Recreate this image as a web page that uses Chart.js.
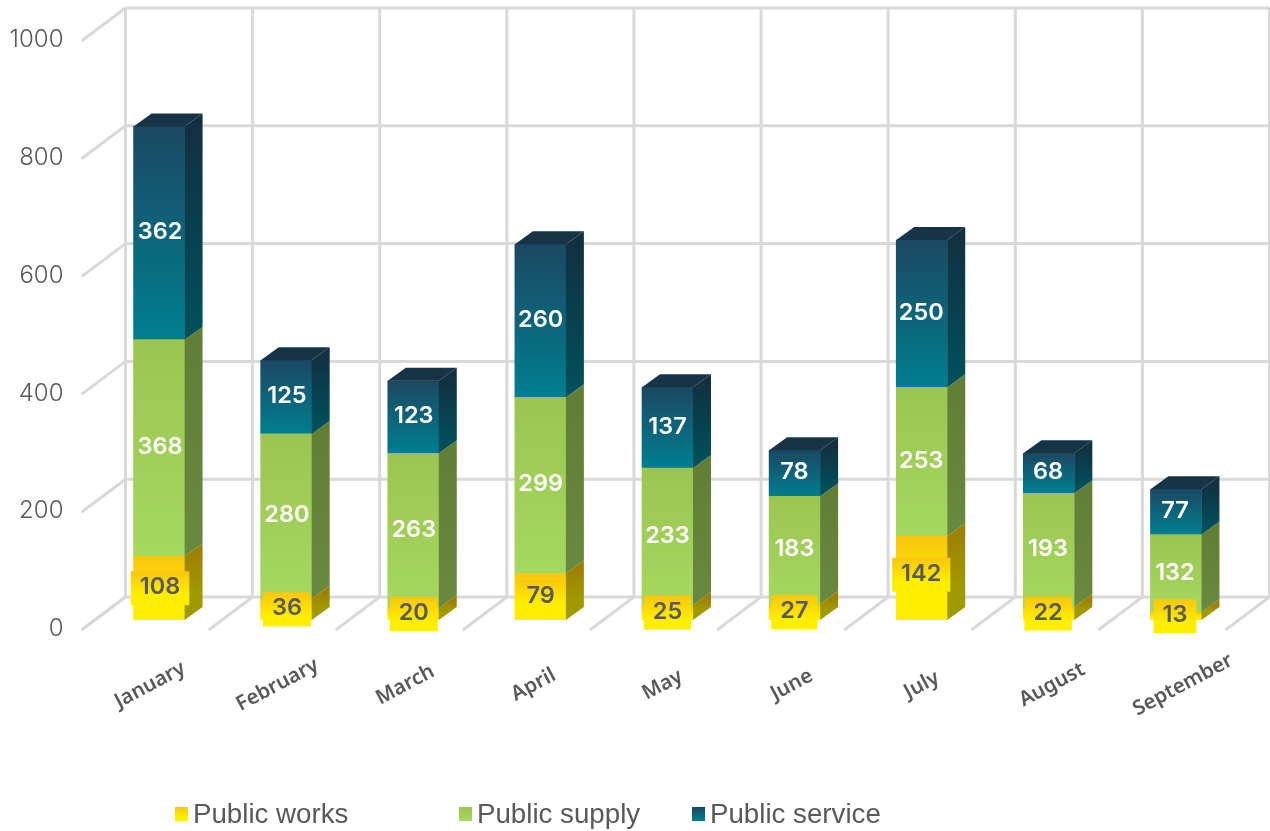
<!DOCTYPE html>
<html><head><meta charset="utf-8">
<style>html,body{margin:0;padding:0;background:#fff}canvas{display:block}</style>
<script src="https://cdn.jsdelivr.net/npm/chart.js@4"></script>
</head><body><canvas id="c" width="1270" height="831"></canvas>
<script>
const months=['January','February','March','April','May','June','July','August','September'];
const publicWorks=[108,36,20,79,25,27,142,22,13];
const publicSupply=[368,280,263,299,233,183,253,193,132];
const publicService=[362,125,123,260,137,78,250,68,77];
const yTicks=[0,200,400,600,800,1000];
const seriesNames=['Public works','Public supply','Public service'];

const TEXT='#595959', GRID='#D9D9D9';
const NUM_FONT='Inter';
const palettes=[
 {top:'#F8C60F',bot:'#FFEE00',sideTop:'#9E7F06',sideBot:'#A09A00',cap:'#A08000',label:TEXT,stop:0.7},
 {top:'#9BC552',bot:'#A5D85F',sideTop:'#627E36',sideBot:'#68893E',cap:'#627E36',label:'#FFFFFF',stop:1},
 {top:'#1B4862',bot:'#007F90',sideTop:'#122F40',sideBot:'#00505C',cap:'#163446',label:'#FFFFFF',stop:1}
];
const seriesArrays=[publicWorks,publicSupply,publicService];
const DEPTH_X=18, DEPTH_Y=13;
function vGrad(ctx,y0,y1,c0,c1,stop=1){const g=ctx.createLinearGradient(0,y0,0,y1);g.addColorStop(0,c0);g.addColorStop(stop,c1);return g;}
function segFill(s){return c=>{
  const sc=c.chart.scales.y; if(!sc||c.dataIndex===undefined)return palettes[s].bot;
  let base=0;for(let k=0;k<s;k++)base+=seriesArrays[k][c.dataIndex];
  const a=sc.getPixelForValue(base+seriesArrays[s][c.dataIndex]),b=sc.getPixelForValue(base);
  if(!isFinite(a)||!isFinite(b))return palettes[s].bot;
  return vGrad(c.chart.ctx,a,b,palettes[s].top,palettes[s].bot,palettes[s].stop);
};}

const scene={id:'scene',
 afterUpdate(chart){
  const {x,y}=chart.scales;
  x.getLabelItems(chart.chartArea).forEach((it,i)=>{
    it.textOffset=0;
    it.options.textAlign='center';it.options.textBaseline='middle';
    it.options.translation=[x.getPixelForTick(i)-9+0.25*i*i,685];
  });
  y.getLabelItems(chart.chartArea).forEach(it=>{
    it.options.translation=[63.5,it.options.translation[1]+9];
  });
 },
 beforeDatasetsDraw(chart){
  const {ctx}=chart,{x,y}=chart.scales;
  const step=x.getPixelForValue(1)-x.getPixelForValue(0);
  const left=x.getPixelForValue(0)-step/2;
  ctx.save();ctx.strokeStyle=GRID;ctx.lineWidth=3;ctx.lineCap='butt';
  const wallX=left+30,frontX=left-14,backDy=-23,frontDy=10;
  const line=(a,b,c,d)=>{ctx.beginPath();ctx.moveTo(a,b);ctx.lineTo(c,d);ctx.stroke();};
  const wallRight=wallX+step*months.length;
  yTicks.forEach(v=>{
    const p=y.getPixelForValue(v);
    line(wallX,p+backDy,wallRight,p+backDy);
    line(frontX,p+frontDy,wallX,p+backDy);
  });
  const py0=y.getPixelForValue(0),pyT=y.getPixelForValue(1000);
  for(let i=0;i<=months.length;i++){
    line(wallX+step*i,pyT+backDy,wallX+step*i,py0+backDy);
    line(frontX+step*i,py0+frontDy,wallX+step*i,py0+backDy);
  }
  ctx.restore();
 },
 afterDatasetsDraw(chart){
  const {ctx}=chart;
  ctx.save();
  chart.data.datasets.forEach((ds,s)=>{
    const pal=palettes[s];
    chart.getDatasetMeta(s).data.forEach(b=>{
      const r=b.x+b.width/2,t=b.y,bt=b.base;
      ctx.fillStyle=vGrad(ctx,t-DEPTH_Y/2,bt-DEPTH_Y/2,pal.sideTop,pal.sideBot,pal.stop);
      ctx.beginPath();ctx.moveTo(r,t);ctx.lineTo(r+DEPTH_X,t-DEPTH_Y);ctx.lineTo(r+DEPTH_X,bt-DEPTH_Y);ctx.lineTo(r,bt);ctx.closePath();ctx.fill();
      if(s===2){
        const l=b.x-b.width/2;
        ctx.fillStyle=pal.cap;
        ctx.beginPath();ctx.moveTo(l,t);ctx.lineTo(l+DEPTH_X,t-DEPTH_Y);ctx.lineTo(r+DEPTH_X,t-DEPTH_Y);ctx.lineTo(r,t);ctx.closePath();ctx.fill();
      }
    });
  });
  ctx.textAlign='center';ctx.textBaseline='middle';
  chart.data.datasets.forEach((ds,s)=>{
    const pal=palettes[s];
    chart.getDatasetMeta(s).data.forEach((b,i)=>{
      const txt=String(ds.data[i]),cx=b.x+1-0.25*i;
      const nudge=(s===0&&ds.data[i]===Math.max(...ds.data))?-3.5:0;
      const mid=(b.y+b.base)/2+nudge;
      ctx.font='600 23.5px '+NUM_FONT;
      const w=ctx.measureText(txt).width;
      if(s===0){
        const h=34,bw=w+18,y0=mid-h/2;
        ctx.fillStyle=vGrad(ctx,y0,y0+h,pal.top,pal.bot,pal.stop);
        ctx.fillRect(cx-bw/2,y0,bw,h);
      }
      ctx.fillStyle=pal.label;
      ctx.fillText(txt,cx,mid-1);
    });
  });
  const lx=[175,459,692],ly=814;
  ctx.textAlign='left';ctx.textBaseline='alphabetic';
  seriesNames.forEach((n,s)=>{
    ctx.fillStyle=vGrad(ctx,ly-7,ly+7,palettes[s].top,palettes[s].bot,palettes[s].stop);
    ctx.fillRect(lx[s],ly-7,13,14);
    ctx.fillStyle=TEXT;ctx.font='27.7px "Liberation Sans"';
    ctx.fillText(n,lx[s]+18,ly+9);
  });
  ctx.restore();
 }
};

const mk=(s)=>({label:seriesNames[s],data:seriesArrays[s],backgroundColor:segFill(s),barThickness:51,stack:'a',borderWidth:0});
new Chart(document.getElementById('c'),{
 type:'bar',
 data:{labels:months,datasets:[mk(0),mk(1),mk(2)]},
 plugins:[scene],
 options:{
  responsive:false,animation:false,
  layout:{padding:{top:31,right:30.5,left:0,bottom:0}},
  plugins:{legend:{display:false},tooltip:{enabled:false},title:{display:false}},
  scales:{
   x:{stacked:true,grid:{display:false},border:{display:false},
      afterFit(s){s.height=211;s.paddingLeft=0;s.paddingRight=0;},
      ticks:{autoSkip:false,minRotation:28,maxRotation:28,color:TEXT,font:{family:'"Noto Sans"',size:20.5,weight:'600'}}},
   y:{stacked:true,min:0,max:1000,grid:{display:false},border:{display:false},
      afterFit(s){s.width=95.5;s.paddingTop=0;s.paddingBottom=0;},
      afterBuildTicks(s){s.ticks=yTicks.map(v=>({value:v}));},
      ticks:{callback:v=>String(v),color:TEXT,font:{family:NUM_FONT,size:24,weight:'300'}}}
  }
 }
});
</script></body></html>
